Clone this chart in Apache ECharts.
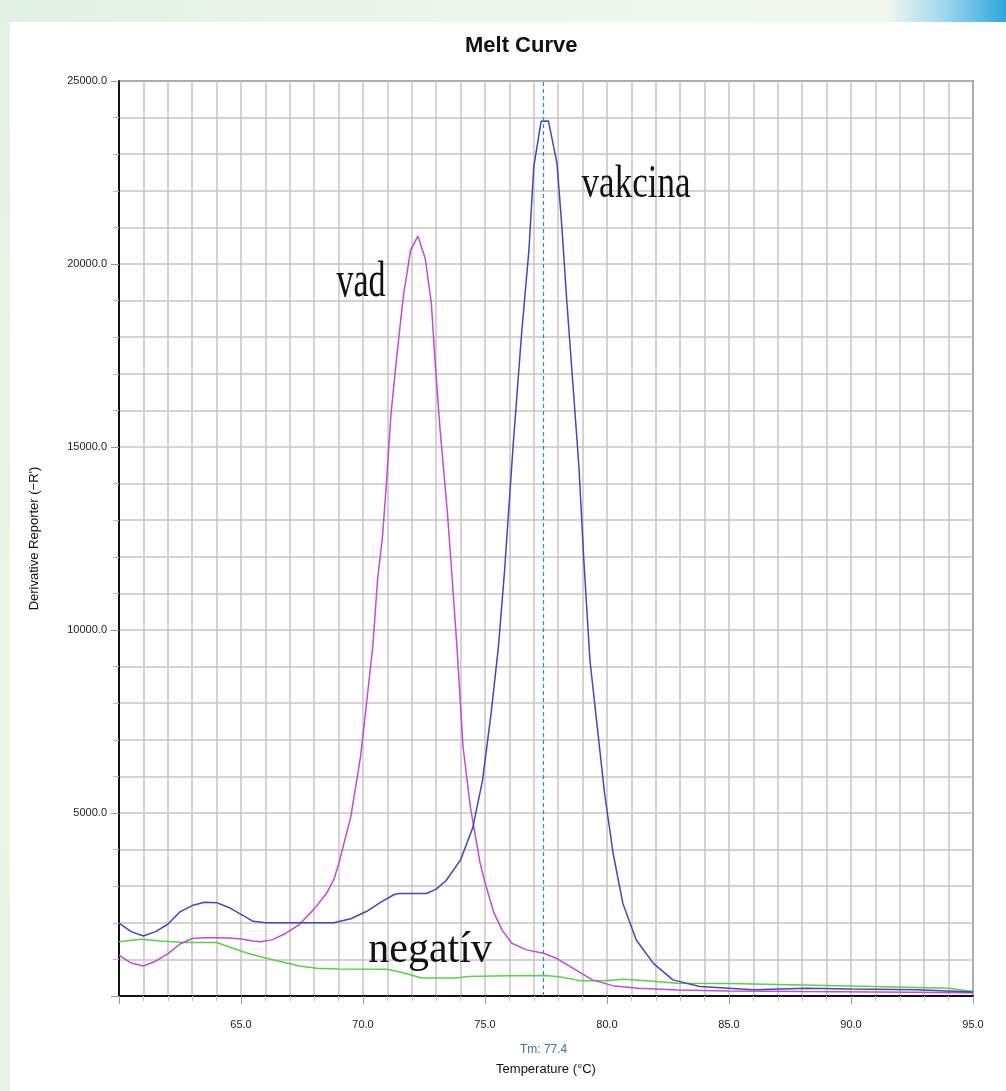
<!DOCTYPE html>
<html>
<head>
<meta charset="utf-8">
<script src="https://cdn.jsdelivr.net/npm/echarts@6/dist/echarts.min.js"></script>
<style>
  html, body { margin: 0; padding: 0; }
  body {
    width: 1006px; height: 1091px; position: relative; overflow: hidden;
    background: linear-gradient(to right, #e1f1e2 0%, #ecf6e9 45%, #f3f8ee 88%, #9dd6ee 94%, #2ea6de 100%);
  }
  #paper { position: absolute; left: 10px; top: 22px; right: 0; bottom: 0; background: #fff; }
  #left { position: absolute; left: 0; top: 22px; width: 10px; bottom: 0;
    background: linear-gradient(to bottom, #e3f2e4, #eef5e2 60%, #eaf3e6); }
  #chart { position: absolute; left: 0; top: 0; width: 1006px; height: 1091px; }
</style>
</head>
<body>
<div id="left"></div>
<div id="paper"></div>
<div id="chart"></div>
<script>
// [temperature, derivative]
var vad = [
  [60.0,1120],[60.5,900],[61.0,820],[61.5,950],[62.0,1150],[62.5,1420],[63.0,1570],[63.5,1590],
  [64.0,1590],[64.5,1585],[65.0,1560],[65.5,1500],[65.8,1480],[66.3,1540],[66.8,1700],[67.4,1960],
  [68.0,2380],[68.5,2800],[68.8,3170],[69.0,3600],[69.5,4900],[69.9,6540],[70.1,7730],[70.4,9540],
  [70.6,11400],[70.8,12550],[70.95,13920],[71.15,15930],[71.4,17570],[71.65,19100],[71.95,20380],
  [72.25,20760],[72.55,20150],[72.8,18930],[72.95,17380],[73.15,15550],[73.45,13280],[73.65,11450],
  [73.85,9540],[74.1,6810],[74.4,5170],[74.8,3630],[75.0,3100],[75.35,2300],[75.7,1800],[76.1,1440],
  [76.7,1260],[77.4,1170],[77.9,1040],[78.6,760],[79.4,440],[80.3,270],[81.3,210],[82.9,165],
  [85.0,140],[88.0,120],[91.0,110],[95.0,90]
];
var vakcina = [
  [60.0,1990],[60.5,1760],[61.0,1640],[61.5,1760],[62.0,1960],[62.5,2300],[63.0,2470],[63.5,2560],
  [64.0,2550],[64.5,2420],[65.0,2230],[65.5,2040],[66.0,2000],[67.0,2000],[68.0,2000],[68.8,2000],
  [69.5,2110],[70.2,2330],[70.7,2550],[71.3,2780],[71.5,2800],[72.6,2800],[73.0,2920],[73.4,3150],
  [74.0,3720],[74.5,4600],[74.9,5900],[75.25,7720],[75.55,9540],[75.8,11600],[76.15,15010],
  [76.5,18100],[76.8,20380],[77.0,22660],[77.3,23900],[77.6,23910],[77.95,22750],[78.15,21020],
  [78.35,19010],[78.6,16740],[78.85,14460],[79.05,11910],[79.3,9180],[79.6,7360],[79.9,5540],
  [80.25,3900],[80.65,2530],[81.2,1530],[81.9,890],[82.7,440],[83.8,260],[86.0,170],[88.2,210],
  [90.0,190],[92.7,170],[95.0,110]
];
var negativ = [
  [60.0,1480],[60.9,1550],[61.7,1500],[62.7,1460],[64.0,1460],[64.7,1300],[65.2,1180],[65.8,1075],
  [66.3,990],[67.4,820],[68.1,760],[69.0,740],[71.0,730],[71.6,640],[72.4,490],[73.8,490],[74.3,530],
  [75.9,555],[77.5,560],[78.1,520],[78.9,420],[79.9,420],[80.7,455],[81.6,420],[82.9,350],[85.0,340],
  [88.0,300],[90.0,270],[94.0,210],[95.0,120]
];
var tm = 77.4;
// annotation texts and where they sit (data coords)
var notes = [
  { text: 'vad', at: [69.92, 19480], size: 34, sy: 1.5 },
  { text: 'vakcina', at: [81.19, 22160], size: 35, sy: 1.35 },
  { text: 'negatív', at: [72.75, 1257], size: 42, sy: 1.05 }
];

var lineStyle = function (c) { return { color: c, width: 1.5 }; };
var gridLine = { show: true, lineStyle: { color: '#c6c6c6', width: 1.5 } };
var tmStyle = { color: '#1a8fd0', type: [4, 3], width: 1.2 };

var myChart = echarts.init(document.getElementById('chart'));
var option = {
  backgroundColor: 'transparent',
  animation: false,
  title: {
    text: 'Melt Curve',
    left: 460, top: 30,
    textStyle: { fontSize: 22, fontWeight: 'bold', color: '#111', fontFamily: 'Liberation Sans, Arial' }
  },
  grid: { left: 119, right: 33, top: 81, bottom: 95, show: true, borderColor: '#333', borderWidth: 1.5 },
  xAxis: {
    type: 'value', min: 60, max: 95, interval: 5,
    name: 'Temperature (°C)', nameLocation: 'middle', nameGap: 67,
    nameTextStyle: { fontSize: 13, color: '#111', fontFamily: 'Liberation Sans, Arial' },
    axisLine: { lineStyle: { color: '#111', width: 2 } },
    axisTick: { length: 8, lineStyle: { color: '#999' } },
    minorTick: { show: true, splitNumber: 5, length: 5, lineStyle: { color: '#bbb' } },
    splitLine: gridLine,
    minorSplitLine: gridLine,
    axisLabel: {
      showMinLabel: false, margin: 23, fontSize: 11, color: '#222',
      fontFamily: 'Liberation Sans Narrow, Liberation Sans, Arial',
      formatter: function (v) { return v.toFixed(1); }
    }
  },
  yAxis: {
    type: 'value', min: 0, max: 25000, interval: 5000,
    name: "Derivative Reporter (\u2212R')", nameLocation: 'middle', nameGap: 78,
    nameTextStyle: { fontSize: 13, color: '#111', fontFamily: 'Liberation Sans, Arial' },
    axisLine: { show: true, lineStyle: { color: '#111', width: 2 } },
    axisTick: { show: true, length: 8, lineStyle: { color: '#999' } },
    minorTick: { show: true, splitNumber: 5, length: 6, lineStyle: { color: '#bbb' } },
    splitLine: gridLine,
    minorSplitLine: gridLine,
    axisLabel: {
      showMinLabel: false, margin: 12, fontSize: 11, color: '#222',
      fontFamily: 'Liberation Sans Narrow, Liberation Sans, Arial',
      formatter: function (v) { return v.toFixed(1); }
    }
  },
  series: [
    { name: 'negatív', type: 'line', data: negativ, showSymbol: false, lineStyle: lineStyle('#5ccf4a') },
    { name: 'vad', type: 'line', data: vad, showSymbol: false, lineStyle: lineStyle('#c44ad6') },
    {
      name: 'vakcina', type: 'line', data: vakcina, showSymbol: false, lineStyle: lineStyle('#4646bc'),
      markLine: {
        silent: true, symbol: 'none', label: { show: false },
        lineStyle: tmStyle,
        emphasis: { disabled: true },
        data: [{ xAxis: tm, lineStyle: tmStyle }]
      }
    }
  ]
};
myChart.setOption(option);

var graphics = notes.map(function (n) {
  var p = myChart.convertToPixel({ gridIndex: 0 }, n.at);
  return {
    type: 'text', x: p[0], y: p[1], scaleY: n.sy,
    style: { text: n.text, fontSize: n.size, fontFamily: 'Liberation Serif, Times New Roman, serif',
      fill: '#111', align: 'center', verticalAlign: 'middle' }
  };
});
var tmX = myChart.convertToPixel({ xAxisIndex: 0 }, tm);
graphics.push({
  type: 'text', x: tmX, y: 1050,
  style: { text: 'Tm: ' + tm.toFixed(1), fontSize: 12, fill: '#3a72a6',
    fontFamily: 'Liberation Sans Narrow, Liberation Sans, Arial', align: 'center', verticalAlign: 'middle' }
});
myChart.setOption({ graphic: graphics });
</script>
</body>
</html>
